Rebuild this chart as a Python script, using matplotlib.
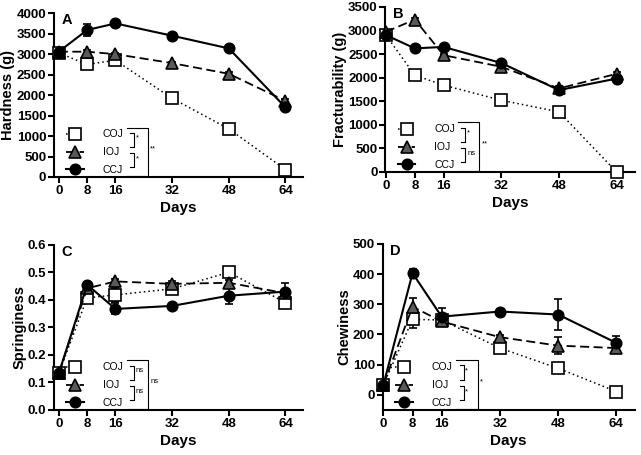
import numpy as np
import matplotlib
matplotlib.use('Agg')
import matplotlib.pyplot as plt

plt.rcParams['font.family'] = ['Liberation Sans', 'DejaVu Sans']

days = [0, 8, 16, 32, 48, 64]
groups = ['COJ', 'IOJ', 'CCJ']

# A - hardness (g)
hard_coj = [3030, 2750, 2850, 1920, 1175, 180]
hard_ioj = [3060, 3060, 3000, 2780, 2520, 1860]
hard_ccj = [3060, 3590, 3750, 3450, 3140, 1700]
hard_coj_err = [30, 60, 40, 30, 40, 30]
hard_ioj_err = [30, 40, 30, 30, 40, 40]
hard_ccj_err = [30, 150, 40, 30, 40, 40]

# B - fracturability (g)
frac_coj = [2900, 2050, 1840, 1520, 1275, 0]
frac_ioj = [2970, 3230, 2475, 2230, 1770, 2080]
frac_ccj = [2900, 2620, 2650, 2310, 1735, 1980]
frac_coj_err = [30, 30, 30, 30, 30, 10]
frac_ioj_err = [30, 30, 30, 30, 60, 30]
frac_ccj_err = [30, 30, 30, 30, 70, 30]

# C - springiness
spr_coj = [0.133, 0.407, 0.418, 0.440, 0.500, 0.390]
spr_ioj = [0.133, 0.442, 0.467, 0.458, 0.462, 0.424]
spr_ccj = [0.133, 0.455, 0.367, 0.378, 0.415, 0.430]
spr_coj_err = [0.005, 0.02, 0.025, 0.01, 0.01, 0.02]
spr_ioj_err = [0.005, 0.01, 0.01, 0.01, 0.01, 0.01]
spr_ccj_err = [0.005, 0.01, 0.02, 0.005, 0.03, 0.03]

# D - chewiness
chew_coj = [33, 250, 248, 155, 88, 11]
chew_ioj = [33, 292, 243, 191, 163, 155]
chew_ccj = [33, 403, 259, 276, 266, 172]
chew_coj_err = [5, 30, 8, 8, 12, 5]
chew_ioj_err = [5, 28, 8, 8, 28, 8]
chew_ccj_err = [5, 15, 30, 5, 50, 22]

sig_labels = {
    'A': ['*', '*', '**'],
    'B': ['*', 'ns', '**'],
    'C': ['ns', 'ns', 'ns'],
    'D': ['*', '*', '*'],
}

styles = {
    'COJ': dict(ls=(0, (1, 2)), marker='s', ms=8, mfc='white', lw=1.1),
    'IOJ': dict(ls=(0, (5, 2.5)), marker='^', ms=9, mfc='#5a5a5a', lw=1.3),
    'CCJ': dict(ls='-', marker='o', ms=7.5, mfc='black', lw=1.5),
}

fig = plt.figure(figsize=(6.41, 4.55), dpi=100)

panels = [
    ('A', [0.084, 0.611, 0.389, 0.360], (hard_coj, hard_ioj, hard_ccj),
     (hard_coj_err, hard_ioj_err, hard_ccj_err), 'Hardness (g)', (0, 4000), np.arange(0, 4001, 500), -1.4),
    ('B', [0.601, 0.622, 0.389, 0.363], (frac_coj, frac_ioj, frac_ccj),
     (frac_coj_err, frac_ioj_err, frac_ccj_err), 'Fracturability (g)', (0, 3500), np.arange(0, 3501, 500), -0.2),
    ('C', [0.084, 0.099, 0.389, 0.363], (spr_coj, spr_ioj, spr_ccj),
     (spr_coj_err, spr_ioj_err, spr_ccj_err), 'Springiness', (0, 0.6), np.arange(0, 0.61, 0.1), -1.4),
    ('D', [0.597, 0.099, 0.393, 0.365], (chew_coj, chew_ioj, chew_ccj),
     (chew_coj_err, chew_ioj_err, chew_ccj_err), 'Chewiness', (-50, 500), np.arange(0, 501, 100), -0.2),
]

for letter, pos, series, errs, ylabel, ylim, yticks, x0 in panels:
    ax = fig.add_axes(pos)
    handles = []
    for name, vals, err in zip(groups, series, errs):
        st = styles[name]
        ax.errorbar(days, vals, yerr=err, fmt='none', ecolor='black',
                    elinewidth=1.2, capsize=3, capthick=1.2, clip_on=False, zorder=2)
        ln, = ax.plot(days, vals, ls=st['ls'], color='black', lw=st['lw'],
                      marker=st['marker'], ms=st['ms'], mfc=st['mfc'], mec='black',
                      mew=1.2, label=name, clip_on=False, zorder=3)
        handles.append(ln)
    ax.set_xlim(x0, 69)
    ax.set_ylim(*ylim)
    ax.set_xticks(days)
    ax.set_yticks(yticks)
    if letter == 'C':
        ax.set_yticklabels(['%.1f' % t for t in yticks])
    for s in ['top', 'right']:
        ax.spines[s].set_visible(False)
    for s in ['left', 'bottom']:
        ax.spines[s].set_linewidth(1.5)
    ax.tick_params(width=1.5, length=4, labelsize=9.5, pad=1.5)
    for lab in ax.get_xticklabels() + ax.get_yticklabels():
        lab.set_fontweight('bold')
    ax.set_xlabel('Days', fontsize=11, fontweight='bold', labelpad=3)
    ax.set_ylabel(ylabel, fontsize=10.5, fontweight='bold', labelpad=1)
    ax.text(0.03, 1.0, letter, transform=ax.transAxes, fontsize=10.5,
            fontweight='bold', va='top', ha='left')

    ax.legend(handles=handles, loc='lower left', bbox_to_anchor=(0.05, 0.012), frameon=False,
              fontsize=7.5, handlelength=1.7, handletextpad=1.8,
              labelspacing=0.75, borderpad=0, borderaxespad=0)

    # significance brackets
    tr = ax.transAxes
    kw = dict(color='black', lw=0.8, transform=tr, clip_on=False)
    ax.plot([0.305, 0.321, 0.321, 0.305], [0.268, 0.268, 0.183, 0.183], **kw)
    ax.plot([0.305, 0.321, 0.321, 0.305], [0.146, 0.146, 0.061, 0.061], **kw)
    ax.plot([0.292, 0.377, 0.377, 0.292], [0.30, 0.30, 0.005, 0.005], **kw)
    s1, s2, s3 = sig_labels[letter]
    ax.text(0.328, 0.215, s1, transform=tr, fontsize=5.5, va='bottom', ha='left')
    ax.text(0.328, 0.09, s2, transform=tr, fontsize=5.5, va='bottom', ha='left')
    ax.text(0.387, 0.15, s3, transform=tr, fontsize=5.5, va='bottom', ha='left')

fig.savefig('out.png', dpi=100)
